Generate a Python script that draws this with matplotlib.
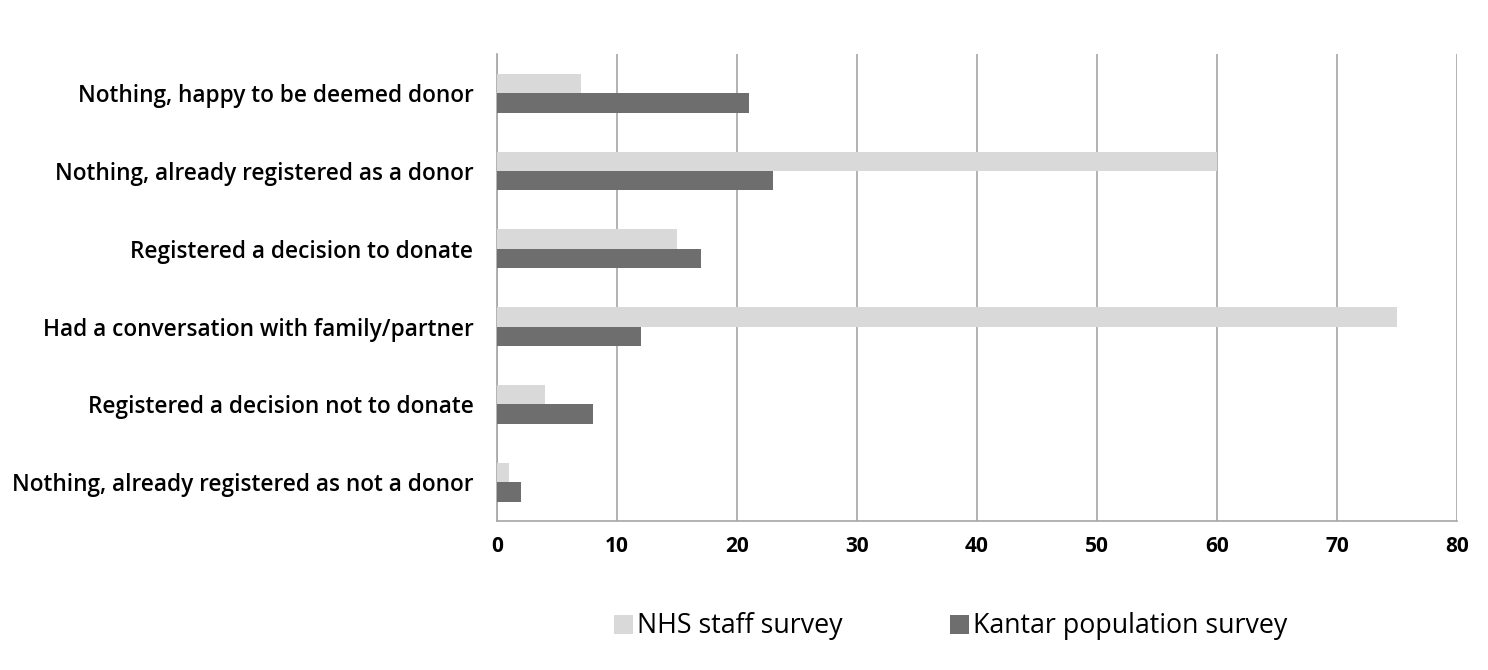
import matplotlib
matplotlib.use("Agg")
import matplotlib.pyplot as plt
import numpy as np

categories = [
    "Nothing, happy to be deemed donor",
    "Nothing, already registered as a donor",
    "Registered a decision to donate",
    "Had a conversation with family/partner",
    "Registered a decision not to donate",
    "Nothing, already registered as not a donor",
]
nhs_staff = [7, 60, 15, 75, 4, 1]
kantar_pop = [21, 23, 17, 12, 8, 2]
series_names = ["NHS staff survey", "Kantar population survey"]
x_ticks = [0, 10, 20, 30, 40, 50, 60, 70, 80]

plt.rcParams['font.family'] = ['Open Sans', 'DejaVu Sans']

fig = plt.figure(figsize=(14.88, 6.70), dpi=100)
ax = fig.add_axes([0.334, 0.2224, 0.6451, 0.6966])

n = len(categories)
pos = np.arange(n)[::-1]
h = 0.25
ax.barh(pos + h / 2, nhs_staff, height=h, color="#d9d9d9", label=series_names[0], zorder=3)
ax.barh(pos - h / 2, kantar_pop, height=h, color="#6e6e6e", label=series_names[1], zorder=3)

ax.set_xlim(0, 80)
ax.set_ylim(-0.5, n - 0.5)
ax.set_xticks(x_ticks)
ax.set_xticklabels([str(t) for t in x_ticks], fontsize=15, fontweight='bold')
ax.set_yticks(pos)
ax.set_yticklabels(categories, fontsize=16.3, fontweight='semibold')
ax.tick_params(axis='x', length=0, pad=11)
ax.tick_params(axis='y', length=0, pad=17)
ax.grid(axis='x', color="#a6a6a6", linewidth=1.2, zorder=0)
for s in ['top', 'right']:
    ax.spines[s].set_visible(False)
for s in ['left', 'bottom']:
    ax.spines[s].set_color("#a6a6a6")
    ax.spines[s].set_linewidth(1.2)

fig.legend(loc='center', bbox_to_anchor=(0.639, 0.065), ncol=2, frameon=False,
           fontsize=19.3, handlelength=0.72, handleheight=0.72, handletextpad=0.15,
           columnspacing=4.0)

fig.savefig("out.png", dpi=100)
